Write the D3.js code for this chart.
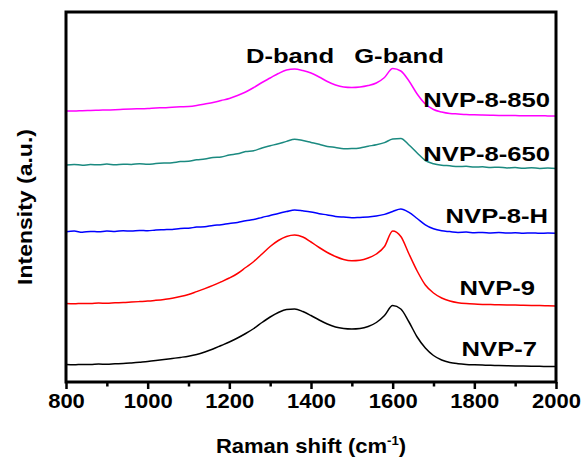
<!DOCTYPE html>
<html>
<head>
<meta charset="utf-8">
<script src="https://cdn.jsdelivr.net/npm/d3@7/dist/d3.min.js"></script>
<style>
  body { margin: 0; background: #fff; }
  text { font-family: Arial, "Liberation Sans", sans-serif; font-weight: bold; fill: #000; }
</style>
</head>
<body>
<svg id="chart" width="582" height="466"></svg>
<script>
// Raman shift sample positions (cm-1)
var shift = [800, 820, 840, 860, 880, 900, 920, 940, 960, 980,
             1000, 1020, 1040, 1060, 1080, 1100, 1120, 1140, 1160, 1180,
             1200, 1220, 1240, 1260, 1280, 1300, 1320, 1340, 1360, 1380,
             1400, 1420, 1440, 1460, 1480, 1500, 1520, 1540, 1560, 1580,
             1600, 1620, 1640, 1660, 1680, 1700, 1720, 1740, 1760, 1780,
             1800, 1820, 1840, 1860, 1880, 1900, 1920, 1940, 1960, 1980, 2000];

// stacked intensities (a.u.)
var nvp7 = [17.5, 17.2, 17.6, 17.4, 17.9, 17.8, 18.2, 18.5, 19.1, 19.8,
            20.5, 21.4, 22.4, 23.5, 24.6, 25.8, 27.5, 30, 33, 36.5,
            40, 44, 48.5, 53.5, 59.5, 65, 69.5, 72.5, 73, 70.5,
            66.5, 62, 58, 55, 53.5, 53, 53.5, 55.5, 59.5, 66.5,
            76.5, 73, 60, 45, 34, 26.5, 22, 19.5, 18.3, 17.6,
            17.2, 16.9, 16.7, 16.5, 16.3, 16.1, 16, 15.8, 15.7, 15.5, 15.4];

var nvp9 = [78.5, 78.2, 78.6, 78.4, 78.9, 78.8, 79.2, 79.4, 79.9, 80.4,
            80.9, 81.7, 82.6, 83.7, 85.4, 87.5, 90.4, 93.4, 96.6, 100.2,
            104, 108.5, 114.5, 120.5, 128, 135.5, 141.5, 145.5, 147, 145,
            140, 134.5, 129.5, 125.5, 122.5, 121.3, 121.8, 124, 128, 135.5,
            151, 145.5, 128, 111, 97, 89, 84, 81, 79.3, 78.4,
            77.9, 77.6, 77.4, 77.2, 77, 76.9, 76.7, 76.5, 76.4, 76.2, 76];

var nvp8H = [150.3, 150.9, 149.8, 150.6, 150.2, 151, 150.5, 151.3, 150.9, 151.6,
             151.2, 152, 152.3, 152.6, 153.5, 153.8, 154.9, 155.3, 156.6, 157.2,
             158.6, 159.5, 161.2, 162.4, 164.6, 166.5, 168.6, 170.4, 172, 171.2,
             170.1, 168.3, 167.1, 165.6, 164.9, 164.3, 164.6, 164.9, 165.9, 167.6,
             170.5, 173, 169.6, 163.5, 157.2, 153.2, 151.2, 150.4, 149.6, 149.9,
             149.3, 149.6, 149.1, 149.4, 148.9, 149.2, 148.8, 149.1, 148.7, 149, 148.7];

var nvp8650 = [217, 217.6, 216.8, 217.4, 217.2, 217.9, 217.3, 217.8, 217.5, 218.3,
               217.7, 218.4, 218.9, 219.3, 220.4, 220.8, 222.3, 222.9, 224.6, 225.1,
               227, 228.2, 230.4, 231.3, 234, 236.2, 238.3, 240.6, 242.8, 241.4,
               239.6, 237.8, 235.6, 234.5, 233.2, 233.4, 234.1, 235.8, 237.2, 239.4,
               243, 243.6, 237, 229, 221.5, 218.3, 216.8, 216.2, 215.4, 215.7,
               214.9, 215.2, 214.5, 214.8, 214.1, 214.4, 213.8, 214.2, 213.6, 213.9, 213.5];

var nvp8850 = [271, 271, 271.3, 271.5, 271.8, 272, 272.3, 272.7, 273, 273.2,
               273.5, 274, 274.3, 274.8, 275.2, 275.5, 276.5, 278, 279.5, 281.5,
               283.5, 286.5, 290, 294.5, 299.5, 304, 308.5, 312, 313, 311.5,
               309, 305, 300.5, 297, 295, 294.5, 295, 296.5, 299, 304.5,
               313.5, 311, 301, 288, 278, 272.5, 270, 268.5, 268, 267.5,
               267.2, 267, 266.8, 266.6, 266.5, 266.4, 266.3, 266.2, 266.2, 266.1, 266];

var seriesNames = ["NVP-7", "NVP-9", "NVP-8-H", "NVP-8-650", "NVP-8-850"];
var seriesValues = [nvp7, nvp9, nvp8H, nvp8650, nvp8850];
var seriesColors = ["#000000", "#ff0000", "#0000ff", "#1b8a80", "#ff00ff"];

var majorTicks = [800, 1000, 1200, 1400, 1600, 1800, 2000];
var minorTicks = [900, 1100, 1300, 1500, 1700, 1900];
var bandLabels = ["D-band", "G-band"];

// layout (plot box edges)
var plotL = 66, plotR = 556, plotT = 12, plotB = 382;
// label anchors: [x end, baseline y]
var labelPos = [[537, 356], [535, 295], [548, 223], [550, 161], [550, 107]];
var bandPos = [[290, 63], [399, 63]];
var stretch = 1.22;   // lettering in the figure is a bit wider than Arial

var svg = d3.select("#chart");

var x = d3.scaleLinear().domain([800, 2000]).range([plotL, plotR]);
var y = d3.scaleLinear().domain([0, 370]).range([plotB, plotT]);

var line = d3.line()
    .x(function (d) { return x(d[0]); })
    .y(function (d) { return y(d[1]); })
    .curve(d3.curveMonotoneX);

svg.selectAll("path.spec")
   .data(seriesValues)
   .enter()
   .append("path")
   .attr("class", "spec")
   .attr("d", function (vals) { return line(shift.map(function (s, i) { return [s, vals[i]]; })); })
   .style("fill", "none")
   .style("stroke", function (d, i) { return seriesColors[i]; })
   .style("stroke-width", 1.5);

// x axis, major and minor ticks
var xMajor = svg.append("g")
    .attr("transform", "translate(0," + plotB + ")")
    .call(d3.axisBottom(x).tickValues(majorTicks).tickSize(7).tickPadding(5).tickFormat(d3.format("d")));
xMajor.select(".domain").remove();
xMajor.selectAll("line").style("stroke", "#000").style("stroke-width", 2.5);
xMajor.selectAll("text")
      .attr("transform", "scale(1.1,1)")
      .style("font-size", "20px")
      .style("font-family", "Arial, 'Liberation Sans', sans-serif")
      .style("font-weight", "bold");

var xMinor = svg.append("g")
    .attr("transform", "translate(0," + plotB + ")")
    .call(d3.axisBottom(x).tickValues(minorTicks).tickSize(4.5).tickFormat(""));
xMinor.select(".domain").remove();
xMinor.selectAll("line").style("stroke", "#000").style("stroke-width", 2.5);

// frame
svg.append("rect")
   .attr("x", plotL).attr("y", plotT)
   .attr("width", plotR - plotL).attr("height", plotB - plotT)
   .style("fill", "none").style("stroke", "#000").style("stroke-width", 3);

// series labels
svg.selectAll("text.series")
   .data(seriesNames)
   .enter()
   .append("text")
   .attr("class", "series")
   .attr("transform", function (d, i) { return "translate(" + labelPos[i][0] + "," + labelPos[i][1] + ") scale(" + stretch + ",1)"; })
   .attr("text-anchor", "end")
   .style("font-size", "21px")
   .text(function (d) { return d; });

svg.selectAll("text.band")
   .data(bandLabels)
   .enter()
   .append("text")
   .attr("class", "band")
   .attr("transform", function (d, i) { return "translate(" + bandPos[i][0] + "," + bandPos[i][1] + ") scale(" + stretch + ",1)"; })
   .attr("text-anchor", "middle")
   .style("font-size", "21px")
   .text(function (d) { return d; });

// axis titles
var xTitle = svg.append("text")
   .attr("transform", "translate(" + (plotL + plotR) / 2 + ",453) scale(1.1,1)")
   .attr("text-anchor", "middle")
   .style("font-size", "20px");
xTitle.append("tspan").text("Raman shift (cm");
xTitle.append("tspan").attr("dy", -8).style("font-size", "12px").text("-1");
xTitle.append("tspan").attr("dy", 8).text(")");

svg.append("text")
   .attr("transform", "translate(32," + ((plotT + plotB) / 2 + 10) + ") rotate(-90) scale(1.15,1)")
   .attr("text-anchor", "middle")
   .style("font-size", "20px")
   .text("Intensity (a.u.)");
</script>
</body>
</html>
